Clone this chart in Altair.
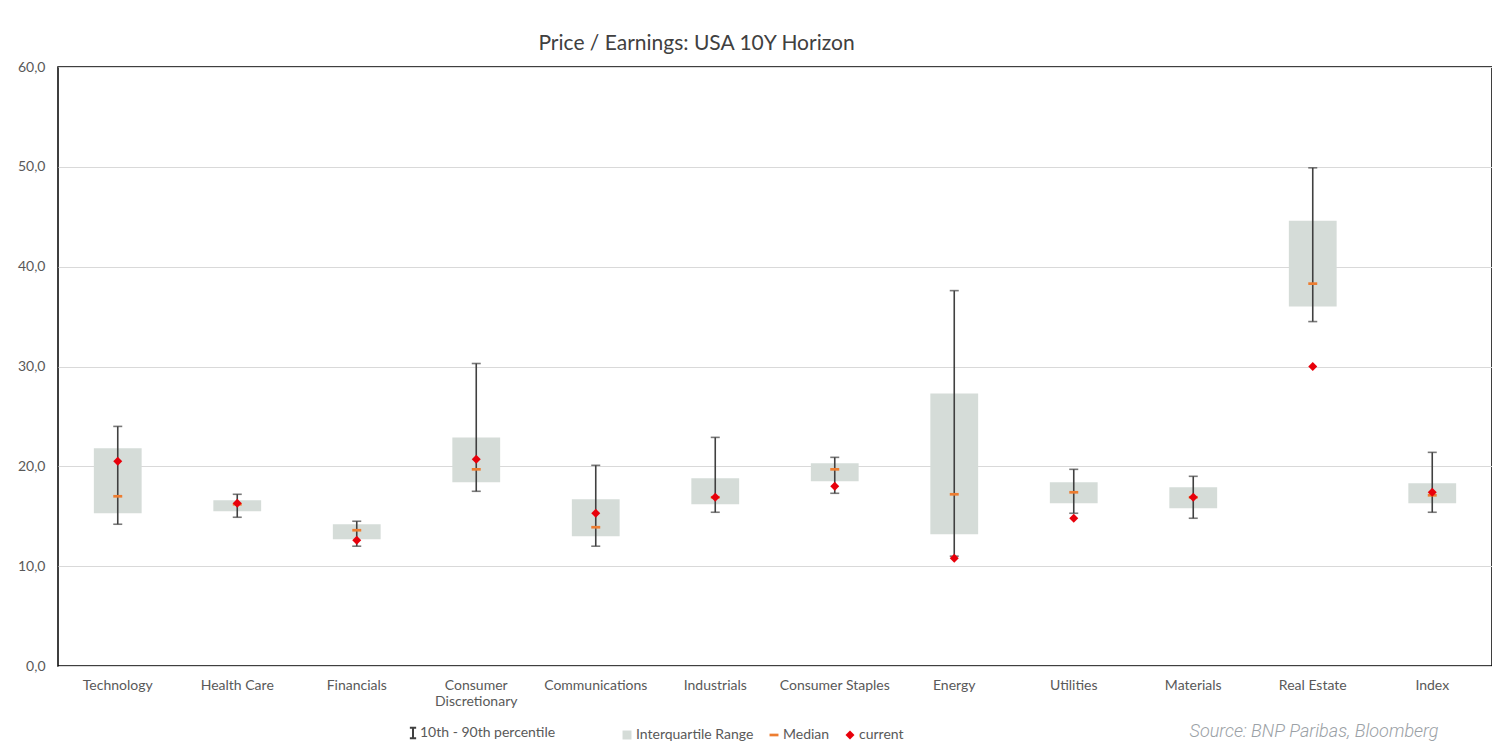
import altair as alt
import pandas as pd

categories = ["Technology", "Health Care", "Financials", "Consumer Discretionary",
              "Communications", "Industrials", "Consumer Staples", "Energy",
              "Utilities", "Materials", "Real Estate", "Index"]
p10 = [14.2, 14.9, 12.0, 17.5, 12.0, 15.4, 17.3, 11.0, 15.3, 14.8, 34.5, 15.4]
p90 = [24.0, 17.2, 14.5, 30.3, 20.1, 22.9, 20.9, 37.6, 19.7, 19.0, 49.9, 21.4]
q1 = [15.3, 15.5, 12.7, 18.4, 13.0, 16.2, 18.5, 13.2, 16.3, 15.8, 36.0, 16.3]
q3 = [21.8, 16.6, 14.2, 22.9, 16.7, 18.8, 20.3, 27.3, 18.4, 17.9, 44.6, 18.3]
median = [17.0, 16.2, 13.6, 19.7, 13.9, 16.9, 19.7, 17.2, 17.4, 16.9, 38.3, 17.1]
current = [20.5, 16.3, 12.6, 20.7, 15.3, 16.9, 18.0, 10.8, 14.8, 16.9, 30.0, 17.4]

series_names = ["Interquartile Range", "Median", "current"]
series_colors = ["#d5dcd8", "#ed7d31", "#e8000b"]
dash_path = "M-1,-0.3H1V0.3H-1Z"
series_shapes = ["square", dash_path, "diamond"]
pct_label = "10th - 90th percentile"
i_path = "M-0.6,-1H0.6M0,-1V1M-0.6,1H0.6"

wide = pd.DataFrame({"cat": categories, "p10": p10, "p90": p90,
                     "q1": q1, "q3": q3, "pct": [pct_label] * len(categories)})
pts = pd.DataFrame({
    "cat": categories * 2,
    "value": median + current,
    "series": ["Median"] * len(categories) + ["current"] * len(categories),
    "order": [0] * len(categories) + [1] * len(categories),
})

FONT = "Lato"
GREY = "#595959"

x_enc = alt.X("cat:N", sort=categories, scale=alt.Scale(paddingInner=0, paddingOuter=0),
              axis=alt.Axis(
                  title="Source: BNP Paribas, Bloomberg",
                  titleX=1380, titleY=65, titleAlign="right", titleBaseline="middle",
                  titleFontStyle="italic", titleFontWeight=300, titleFont="Roboto",
                  titleFontSize=18, titleColor="#9ba1a6",
                  labelAngle=0, labelPadding=12, labelFontSize=14, labelColor=GREY,
                  labelFont=FONT, labelLineHeight=16,
                  labelExpr="datum.label == 'Consumer Discretionary' ? ['Consumer', 'Discretionary'] : datum.label",
                  domain=False, ticks=False, grid=False))
y_scale = alt.Scale(domain=[0, 60], nice=False)
y_axis = alt.Axis(title=None, values=[0, 10, 20, 30, 40, 50, 60],
                  labelExpr="replace(format(datum.value, '.1f'), '.', ',')",
                  labelFontSize=14, labelColor=GREY, labelFont=FONT, labelPadding=13,
                  domain=False, ticks=False, grid=True, gridColor="#d9d9d9", gridWidth=1)

base = alt.Chart(wide)

box = base.mark_bar(width=alt.RelativeBandSize(0.4), color="#d5dcd8").encode(
    x=x_enc, y=alt.Y("q1:Q", scale=y_scale, axis=y_axis), y2="q3:Q")

rule = base.mark_rule(strokeWidth=1.6).encode(
    x=x_enc, y=alt.Y("p10:Q", scale=y_scale), y2="p90:Q",
    stroke=alt.Stroke("pct:N", scale=alt.Scale(domain=[pct_label], range=["#404040"]),
                      legend=alt.Legend(title=None, orient="none", legendX=348, legendY=659,
                                        symbolType=i_path, symbolSize=110,
                                        symbolStrokeWidth=2, symbolStrokeColor="#262626",
                                        labelFontSize=14, labelColor=GREY, labelFont=FONT,
                                        labelOffset=0, padding=0)))

cap_lo = base.mark_tick(color="#404040", size=9, thickness=1.6, orient="horizontal").encode(
    x=x_enc, y=alt.Y("p10:Q", scale=y_scale))
cap_hi = base.mark_tick(color="#404040", size=9, thickness=1.6, orient="horizontal").encode(
    x=x_enc, y=alt.Y("p90:Q", scale=y_scale))

points = alt.Chart(pts).mark_point(filled=True, size=80, opacity=1).encode(
    x=x_enc, y=alt.Y("value:Q", scale=y_scale),
    color=alt.Color("series:N", scale=alt.Scale(domain=series_names, range=series_colors),
                    legend=alt.Legend(title=None, orient="none", direction="horizontal",
                                      legendX=562, legendY=661, columns=3,
                                      columnPadding=13, labelFontSize=14, labelColor=GREY,
                                      labelFont=FONT, labelOffset=2, padding=0,
                                      symbolSize=80, symbolStrokeWidth=0)),
    shape=alt.Shape("series:N", scale=alt.Scale(domain=series_names, range=series_shapes),
                    legend=None),
    order=alt.Order("order:Q"))

chart = alt.layer(box, rule, cap_lo, cap_hi, points).properties(
    width=1434, height=599,
    autosize=alt.AutoSizeParams(type="none"),
    padding={"left": 50, "top": 59, "right": 0, "bottom": 81},
    background="white",
    title=alt.TitleParams("Price / Earnings: USA 10Y Horizon", anchor="start", dx=521,
                          offset=6, fontSize=21, font=FONT, color="#404040",
                          fontWeight="normal"),
).configure_view(stroke="black", strokeWidth=1.5)

chart.save("out.html", embed_options={"renderer": "svg", "actions": False})
